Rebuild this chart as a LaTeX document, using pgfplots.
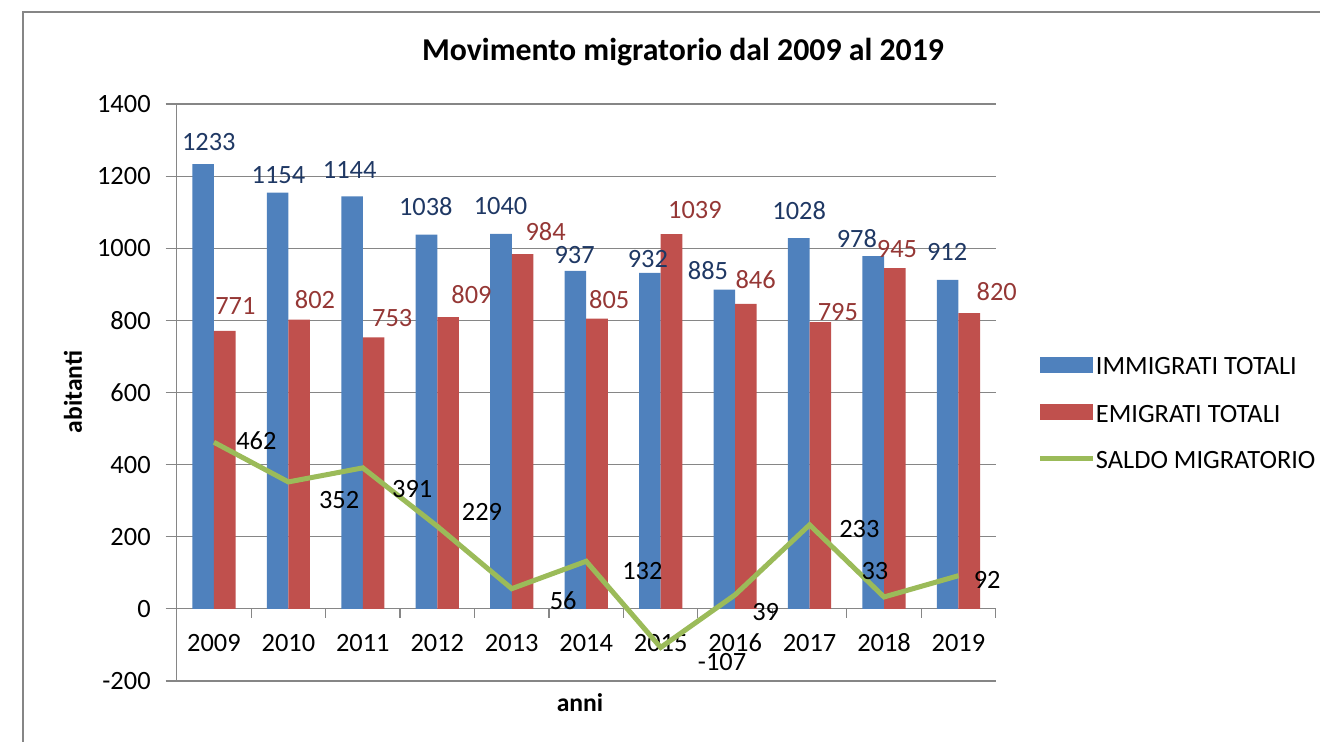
\documentclass[border=0pt]{standalone}
\usepackage{fontspec}
\setmainfont{Carlito}
\usepackage{pgfplots}
\pgfplotsset{compat=1.18}
\definecolor{barblue}{RGB}{79,129,189}
\definecolor{barred}{RGB}{192,80,77}
\definecolor{lgreen}{RGB}{155,187,89}
\definecolor{labblue}{RGB}{31,56,100}
\definecolor{labred}{RGB}{149,55,53}
\definecolor{axgray}{RGB}{134,134,134}
\begin{document}
\begin{tikzpicture}
\useasboundingbox (0pt,0pt) rectangle (660pt,371pt);
\draw[axgray, line width=1.1pt] (11.5pt,-10pt) -- (11.5pt,365pt) -- (680pt,365pt);
\node[font=\fontsize{15.9}{19}\selectfont\bfseries] at (341.5pt,345pt) {Movimento migratorio dal 2009 al 2019};
\node[font=\fontsize{12.8}{15}\selectfont\bfseries, rotate=90] at (36.5pt,175pt) {abitanti};
\node[font=\fontsize{12.8}{15}\selectfont\bfseries] at (290pt,19.5pt) {anni};
\begin{axis}[at={(88.35pt,30.5pt)}, anchor=south west, scale only axis,
  width=409.5pt, height=288.5pt,
  xmin=-0.5, xmax=10.5, ymin=-200, ymax=1400,
  axis y line*=left, axis x line*=middle,
  axis line style={axgray, line width=0.6pt},
  ymajorgrids, grid style={axgray, line width=0.6pt},
  ytick={-200,0,...,1400},
  xtick={0,...,10},
  xticklabels={2009,2010,2011,2012,2013,2014,2015,2016,2017,2018,2019},
  minor xtick={-0.5,0.5,...,10.5},
  tick align=outside,
  major tick length=5.5pt, minor tick length=4.5pt,
  major x tick style={draw=none},
  minor x tick style={axgray, line width=0.6pt},
  ytick style={axgray, line width=0.6pt},
  /pgf/number format/assume math mode=true,
  /pgf/number format/1000 sep={},
  tick label style={font=\fontsize{13.2}{15}\selectfont, text=black},
  yticklabel style={xshift=-4pt},
  xticklabel style={yshift=-3.5pt},
  clip=false,
  legend cell align=left,
  legend style={at={(1.0516,0.4645)}, anchor=west, draw=none, fill=none,
    inner sep=0pt, outer sep=0pt, row sep=14.75pt,
    font=\fontsize{13.2}{15}\selectfont,
    nodes={inner sep=0pt, text height=8.5pt, text depth=0pt},
    /tikz/every even column/.append style={column sep=2.5pt}},
]
\addplot[ybar, bar width=0.29, bar shift=-0.145, fill=barblue, draw=none,
  legend image code/.code={\fill[barblue] (0pt,-3.25pt) rectangle (26.5pt,4.75pt);}]
  coordinates {(0,1233) (1,1154) (2,1144) (3,1038) (4,1040) (5,937) (6,932) (7,885) (8,1028) (9,978) (10,912)};
\addlegendentry{IMMIGRATI TOTALI}
\addplot[ybar, bar width=0.29, bar shift=0.145, fill=barred, draw=none,
  legend image code/.code={\fill[barred] (0pt,-3.25pt) rectangle (26.5pt,4.75pt);}]
  coordinates {(0,771) (1,802) (2,753) (3,809) (4,984) (5,805) (6,1039) (7,846) (8,795) (9,945) (10,820)};
\addlegendentry{EMIGRATI TOTALI}
\addplot[sharp plot, color=lgreen, line width=2.5pt, mark=none,
  legend image code/.code={\draw[lgreen, line width=2.5pt] (0pt,0.75pt) -- (26.5pt,0.75pt);}]
  coordinates {(0,462) (1,352) (2,391) (3,229) (4,56) (5,132) (6,-107) (7,39) (8,233) (9,33) (10,92)};
\addlegendentry{SALDO MIGRATORIO}
% data labels
\addplot[forget plot, draw=none, mark=none, nodes near coords, point meta=explicit symbolic,
  every node near coord/.append style={anchor=center, inner sep=0pt, font=\fontsize{13.2}{15}\selectfont, text=labblue}]
  table[x=x, y=y, meta=l] {
x y l
-0.069 1295 1233
0.867 1203.5 1154
1.823 1217 1144
2.846 1115 1038
3.849 1117 1040
4.845 982 937
5.828 970 932
6.636 937 885
7.861 1104 1028
8.636 1026 978
9.847 990 912
};
\addplot[forget plot, draw=none, mark=none, nodes near coords, point meta=explicit symbolic,
  every node near coord/.append style={anchor=center, inner sep=0pt, font=\fontsize{13.2}{15}\selectfont, text=labred}]
  table[x=x, y=y, meta=l] {
x y l
0.288 840 771
1.358 857 802
2.395 807 753
3.459 871 809
4.455 1045 984
5.310 857 805
6.461 1106 1039
7.276 912 846
8.380 824 795
9.174 998 945
10.514 879 820
};
\addplot[forget plot, draw=none, mark=none, nodes near coords, point meta=explicit symbolic,
  every node near coord/.append style={anchor=center, inner sep=0pt, font=\fontsize{13.2}{15}\selectfont, text=black}]
  table[x=x, y=y, meta=l] {
x y l
0.570 466 462
1.681 301 352
2.664 333 391
3.600 269 229
4.691 24 56
5.754 105 132
6.825 -148 -107
7.410 -8 39
8.669 222 233
8.878 105 33
10.386 79 92
};
\end{axis}
\end{tikzpicture}
\end{document}
